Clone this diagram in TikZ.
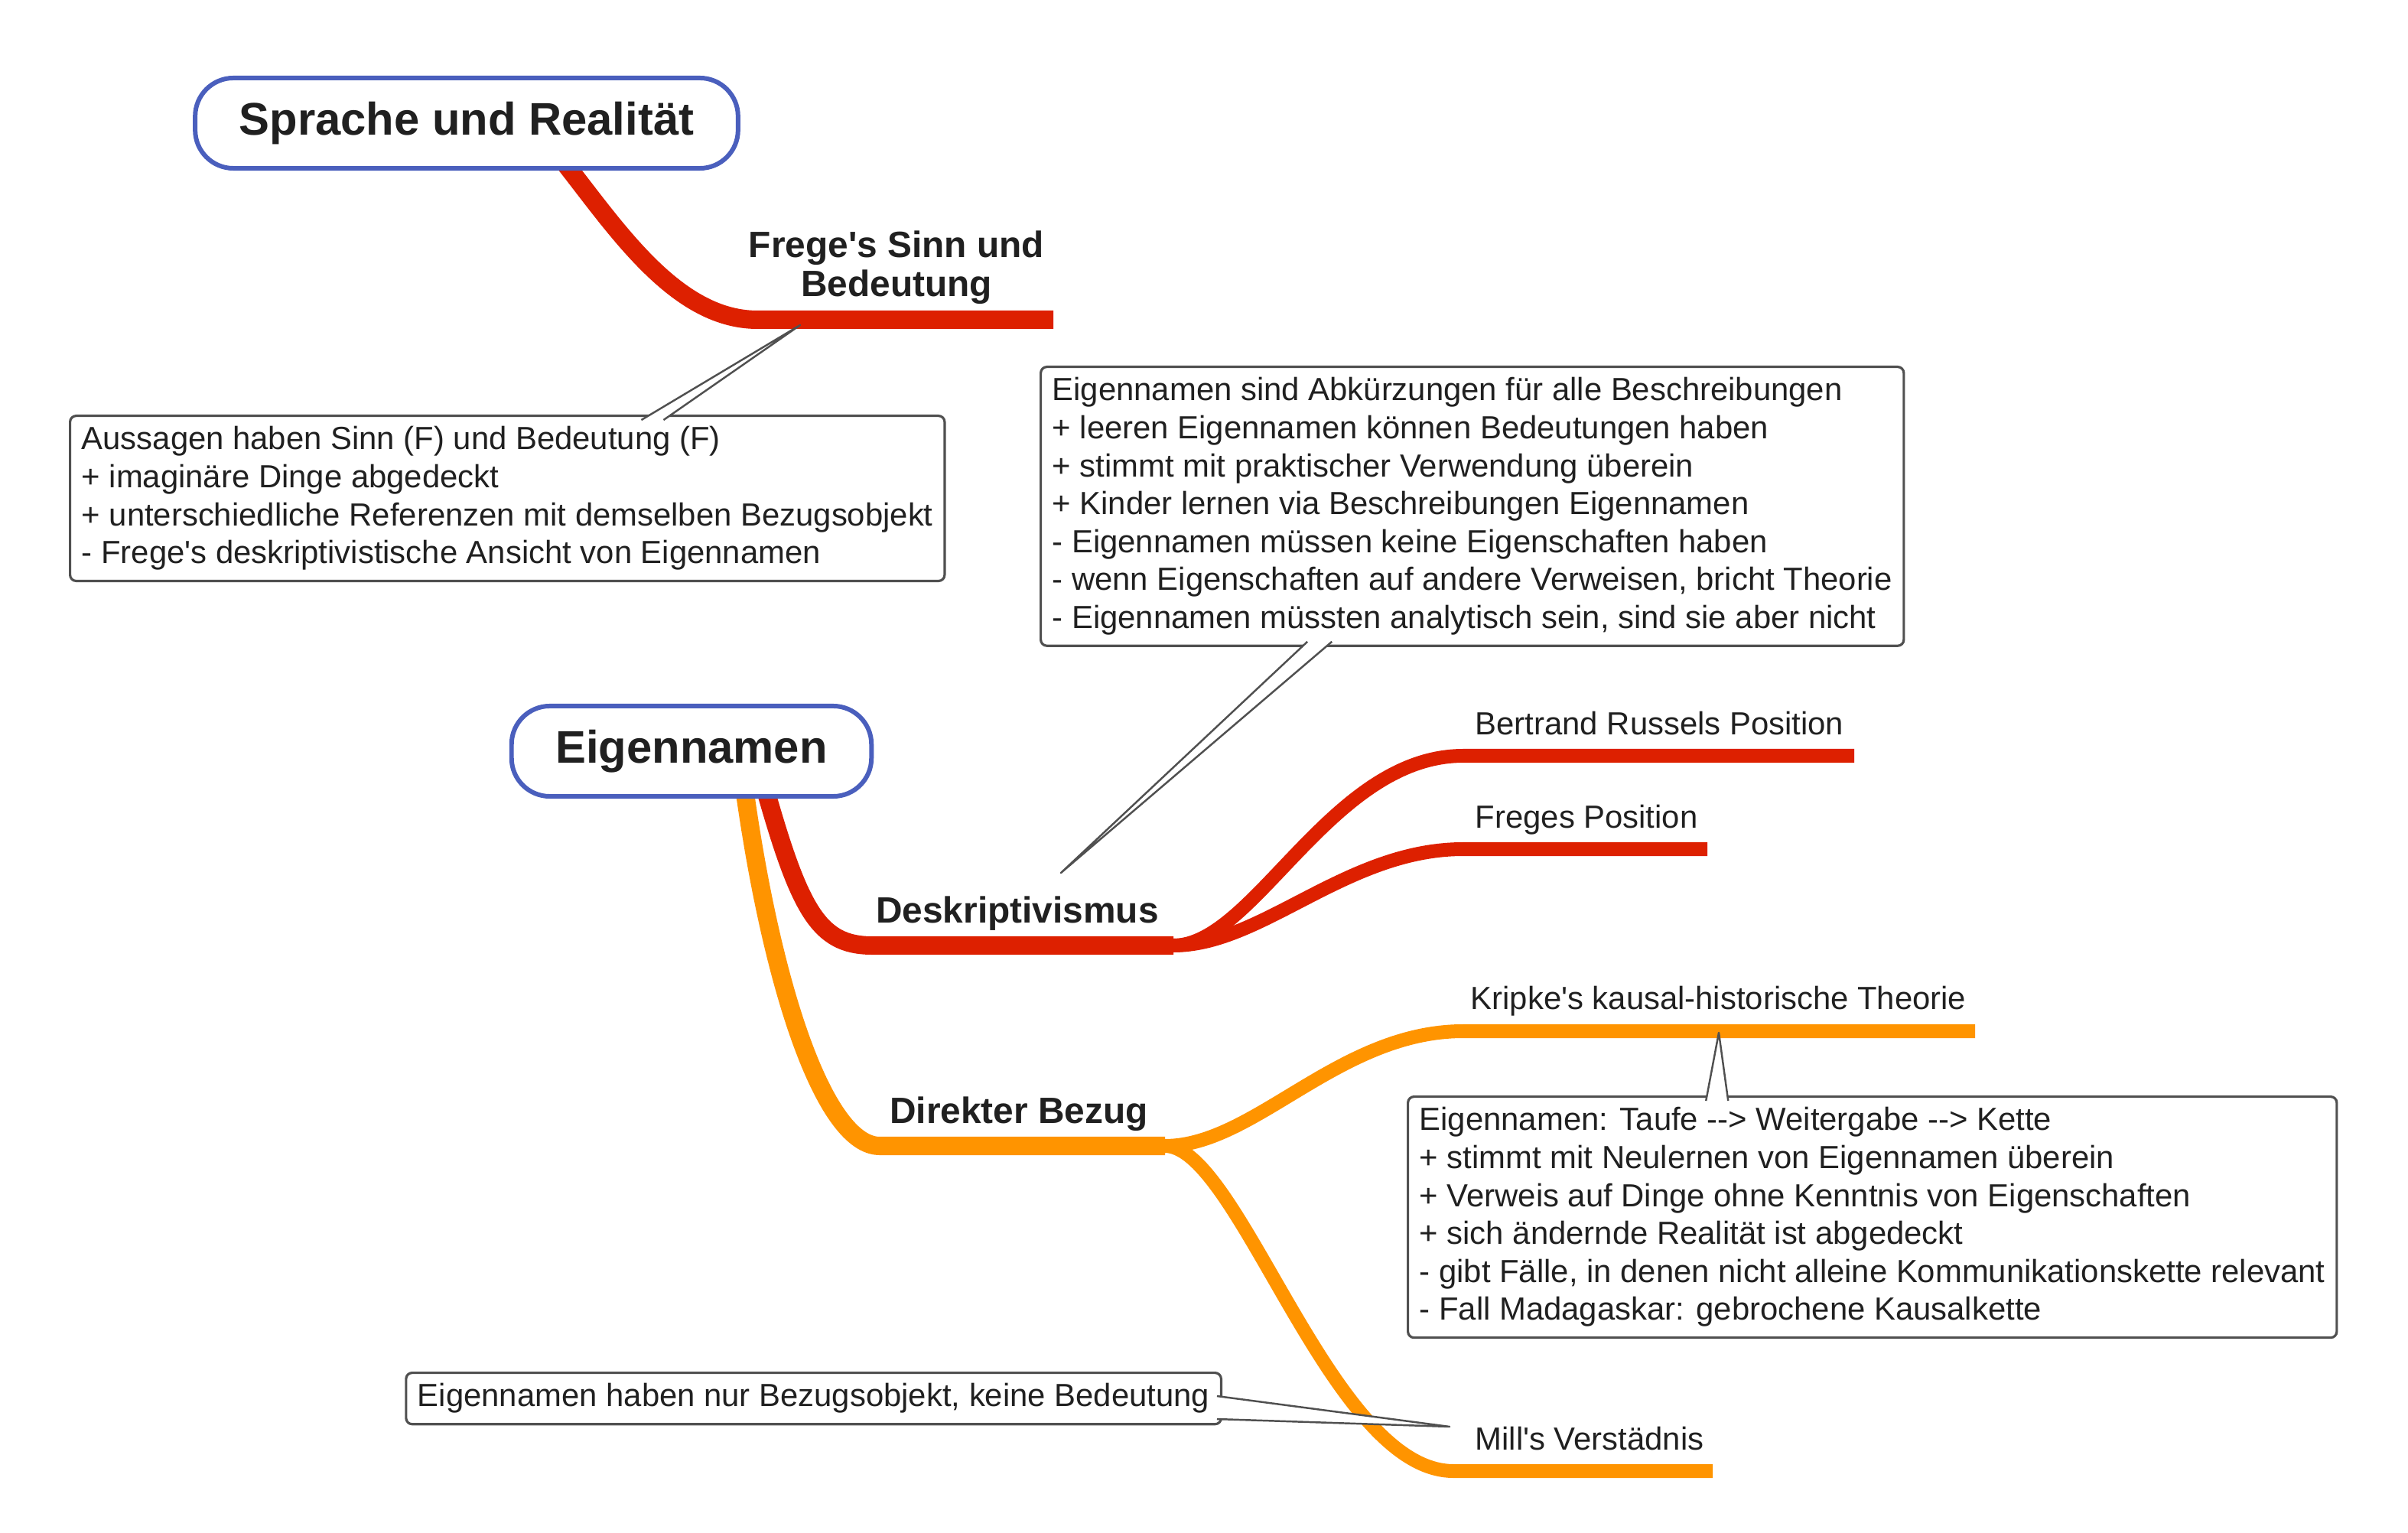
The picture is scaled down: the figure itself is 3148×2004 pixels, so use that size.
\documentclass[tikz,border=0pt]{standalone}
\usepackage{fontspec}
\setmainfont{Liberation Sans}[Ligatures=TeXOff]
\usepackage{tikz}
\usetikzlibrary{positioning}
\pgfdeclarelayer{background}
\pgfsetlayers{background,main}

\definecolor{branchred}{HTML}{DD2000}
\definecolor{branchorange}{HTML}{FF9400}
\definecolor{rootblue}{HTML}{4A5FBD}
\definecolor{notegray}{HTML}{505050}
\definecolor{textdark}{HTML}{202020}

\begin{document}
\begin{tikzpicture}[x=0.01cm, y=-0.01cm,
        root/.style={draw=rootblue, line width=1.7pt, fill=white, rounded corners=0.5cm,
            inner xsep=0.575cm, minimum height=1.18cm, text=textdark,
            font=\fontsize{17}{20}\selectfont\bfseries},
        topic/.style={text=textdark, align=center, font=\fontsize{13.6}{14.6}\selectfont\bfseries},
        leaf/.style={text=textdark, anchor=base west, inner sep=0pt, font=\fontsize{11.9}{14.1}\selectfont},
        note/.style={draw=notegray, line width=0.9pt, fill=white, rounded corners=0.08cm,
            align=left, inner xsep=4.3pt, inner ysep=4pt, text=textdark,
            font=\fontsize{11.9}{14.1}\selectfont},
        callout/.style={draw=notegray, line width=0.7pt, line join=round},
        thickred/.style={draw=branchred, line width=0.24cm},
        thinred/.style={draw=branchred, line width=0.18cm},
        thickorange/.style={draw=branchorange, line width=0.24cm},
        thinorange/.style={draw=branchorange, line width=0.18cm}]

        \useasboundingbox (0,0) rectangle (3148,2004);

        \node[root] (sprache) at (610,161) {Sprache und Realität};
        \node[root] (eigen) at (904,982) {Eigennamen};

        \node[topic] (frege) at (1172,350) {Frege's Sinn und\\Bedeutung};
        \node[topic, anchor=base] (deskr) at (1330,1206) {Deskriptivismus};
        \node[topic, anchor=base] (direkt) at (1332,1468) {Direkter Bezug};

        \node[leaf] (russel) at (1928,961) {Bertrand Russels Position};
        \node[leaf] (freges) at (1928,1083) {Freges Position};
        \node[leaf] (kripke) at (1922,1319) {Kripke's kausal-historische Theorie};
        \node[leaf] (mill) at (1928,1895) {Mill's Verstädnis};

        \coordinate (sprache-out) at ([xshift=1.2cm, yshift=0.2cm]sprache.south);
        \coordinate (eigen-red) at ([xshift=0.94cm, yshift=0.21cm]eigen.south);
        \coordinate (eigen-orange) at ([xshift=0.68cm, yshift=0.21cm]eigen.south);
        \coordinate (frege-end) at (1377,418);
        \coordinate (deskr-split) at (1534,1236);
        \coordinate (russel-end) at (2424,988);
        \coordinate (freges-end) at (2232,1110);
        \coordinate (direkt-split) at (1523,1498);
        \coordinate (kripke-end) at (2582,1348);
        \coordinate (mill-end) at (2239,1923);

        \begin{pgfonlayer}{background}
            \draw[thickred] (sprache-out) .. controls (800,290) and (880,418) .. (990,418) -- (frege-end);

            \draw[thickorange] (eigen-orange) .. controls (1010,1300) and (1080,1498) .. (1150,1498) -- (direkt-split);
            \draw[thinorange] (direkt-split) .. controls (1640,1498) and (1750,1348) .. (1913,1348) -- (kripke-end);
            \draw[thinorange] (direkt-split) .. controls (1620,1498) and (1740,1923) .. (1900,1923) -- (mill-end);

            \draw[thickred] (eigen-red) .. controls (1045,1190) and (1070,1236) .. (1140,1236) -- (deskr-split);
            \draw[thinred] (deskr-split) .. controls (1640,1236) and (1740,988) .. (1913,988) -- (russel-end);
            \draw[thinred] (deskr-split) .. controls (1650,1236) and (1760,1110) .. (1913,1110) -- (freges-end);
        \end{pgfonlayer}

        \node[note, anchor=north west] (fregenote) at (90,542) {Aussagen haben Sinn (F) und Bedeutung (F)\\
            + imaginäre Dinge abgedeckt\\
            + unterschiedliche Referenzen mit demselben Bezugsobjekt\\
            - Frege's deskriptivistische Ansicht von Eigennamen};

        \node[note, anchor=north west] (deskrnote) at (1359,478) {Eigennamen sind Abkürzungen für alle Beschreibungen\\
            + leeren Eigennamen können Bedeutungen haben\\
            + stimmt mit praktischer Verwendung überein\\
            + Kinder lernen via Beschreibungen Eigennamen\\
            - Eigennamen müssen keine Eigenschaften haben\\
            - wenn Eigenschaften auf andere Verweisen, bricht Theorie\\
            - Eigennamen müssten analytisch sein, sind sie aber nicht};

        \node[note, anchor=north west] (kripkenote) at (1839,1432) {Eigennamen: Taufe --> Weitergabe --> Kette\\
            + stimmt mit Neulernen von Eigennamen überein\\
            + Verweis auf Dinge ohne Kenntnis von Eigenschaften\\
            + sich ändernde Realität ist abgedeckt\\
            - gibt Fälle, in denen nicht alleine Kommunikationskette relevant\\
            - Fall Madagaskar: gebrochene Kausalkette};

        \node[note, anchor=north east] (millnote) at (1598,1793) {Eigennamen haben nur Bezugsobjekt, keine Bedeutung};

        \coordinate (frege-tip) at (1046,425);
        \coordinate (deskr-tip) at (1387,1141);
        \coordinate (kripke-tip) at (2247,1350);
        \coordinate (mill-tip) at (1895,1865);

        \coordinate (fn-a) at ([xshift=7.48cm, yshift=-2pt]fregenote.north west);
        \coordinate (fn-b) at ([xshift=7.77cm, yshift=-2pt]fregenote.north west);
        \coordinate (dn-a) at ([xshift=3.5cm, yshift=2pt]deskrnote.south west);
        \coordinate (dn-b) at ([xshift=3.82cm, yshift=2pt]deskrnote.south west);
        \coordinate (kn-a) at ([xshift=3.91cm, yshift=-2pt]kripkenote.north west);
        \coordinate (kn-b) at ([xshift=4.20cm, yshift=-2pt]kripkenote.north west);
        \coordinate (mn-a) at ([xshift=-2pt, yshift=-0.32cm]millnote.north east);
        \coordinate (mn-b) at ([xshift=-2pt, yshift=-0.62cm]millnote.north east);

        \fill[white] (fn-a) -- (frege-tip) -- (fn-b) -- cycle;
        \draw[callout] (fn-a) -- (frege-tip) -- (fn-b);
        \fill[white] (dn-a) -- (deskr-tip) -- (dn-b) -- cycle;
        \draw[callout] (dn-a) -- (deskr-tip) -- (dn-b);
        \fill[white] (kn-a) -- (kripke-tip) -- (kn-b) -- cycle;
        \draw[callout] (kn-a) -- (kripke-tip) -- (kn-b);
        \fill[white] (mn-a) -- (mill-tip) -- (mn-b) -- cycle;
        \draw[callout] (mn-a) -- (mill-tip) -- (mn-b);
    \end{tikzpicture}
\end{document}
